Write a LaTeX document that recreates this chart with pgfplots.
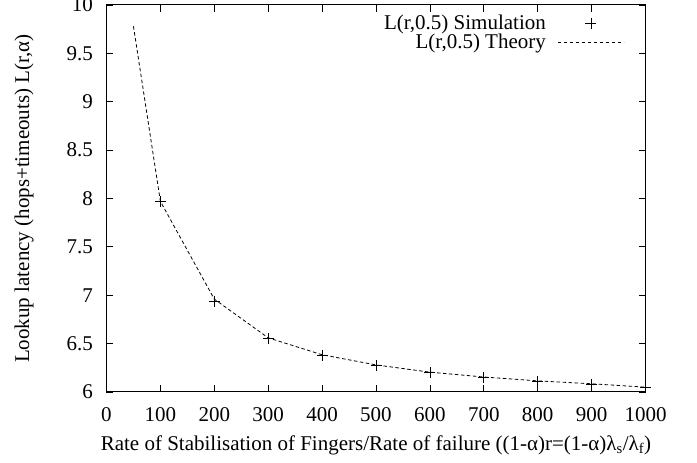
\documentclass[border=0pt]{standalone}
\usepackage{fontspec}
\setmainfont{Liberation Serif}
\usepackage{pgfplots}
\pgfplotsset{compat=1.18}
\pgfplotsset{
  simlegend/.style={legend image code/.code={\path[draw=none,fill=none] (0pt,-3pt) rectangle (76pt,3pt);\draw[mark repeat=2,mark phase=2,#1] plot coordinates {(10pt,0pt) (43pt,0pt) (76pt,0pt)};}},
  theolegend/.style={legend image code/.code={\path[draw=none,fill=none] (0pt,-3pt) rectangle (76pt,3pt);\draw[#1] (10pt,0pt) -- (76pt,0pt);}},
}
\begin{document}
\begin{tikzpicture}[font=\fontsize{21}{24}\selectfont]
\begin{axis}[
  scale only axis,
  width=539pt, height=387pt,
  xmin=0, xmax=1000, ymin=6, ymax=10,
  xtick={0,100,...,1000},
  ytick={6,6.5,...,10},
  yticklabels={6,6.5,7,7.5,8,8.5,9,9.5,10},
  /pgf/number format/assume math mode=true,
  /pgf/number format/1000 sep={},
  tick align=inside,
  major tick length=7pt,
  axis line style={line width=1pt},
  tick style={line width=0.8pt, black},
  x tick label style={yshift=-12pt},
  y tick label style={xshift=-10pt},
  xlabel={Rate of Stabilisation of Fingers/Rate of failure ((1-α)r=(1-α)λ\textsubscript{s}/λ\textsubscript{f})},
  ylabel={Lookup latency (hops+timeouts) L(r,α)},
  xlabel style={at={(axis description cs:0.5,0)}, anchor=center, yshift=-53pt},
  ylabel style={at={(axis description cs:-0.153,0.5)}, anchor=center},
  clip mode=individual,
  legend style={draw=none, fill=none, at={(rel axis cs:1,1)}, anchor=north east, xshift=-18pt, yshift=-6pt, row sep=-1pt},
  legend cell align=right,
  legend plot pos=right,
]
\addplot[only marks, mark=+, mark size=5.5pt, line width=0.8pt, black, simlegend]
  coordinates {(100,7.97) (200,6.94) (300,6.55) (400,6.38) (500,6.27) (600,6.20) (700,6.15) (800,6.11) (900,6.08) (1000,6.045)};
\addlegendentry{L(r,0.5) Simulation}
\addplot[black, line width=0.8pt, dash pattern=on 3.5pt off 2.5pt, mark=none, theolegend]
  coordinates {(50,9.78) (100,7.97) (200,6.96) (300,6.56) (400,6.385) (500,6.28) (600,6.205) (700,6.155) (800,6.115) (900,6.085) (1000,6.05)};
\addlegendentry{L(r,0.5) Theory}
\end{axis}
\pgfresetboundingbox
\path[use as bounding box] ([xshift=-106.5pt,yshift=-71pt]current axis.south west) rectangle ([xshift=51.5pt,yshift=5pt]current axis.north east);
\end{tikzpicture}
\end{document}
